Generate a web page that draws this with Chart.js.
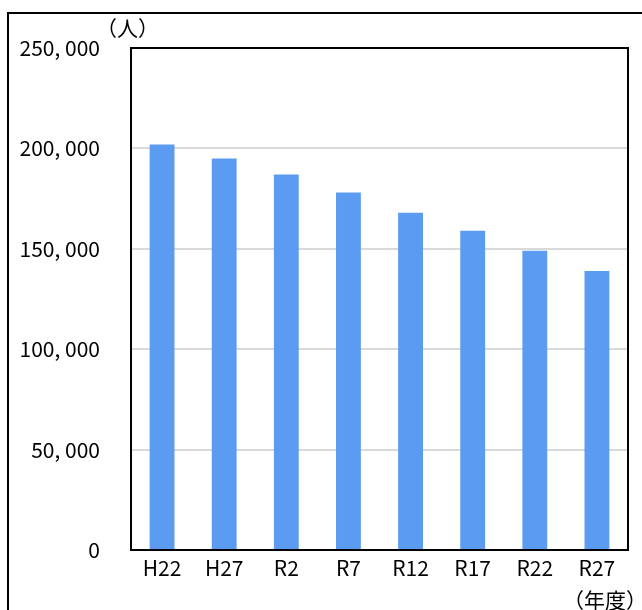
<!DOCTYPE html>
<html><head><meta charset="utf-8">
<script src="https://cdn.jsdelivr.net/npm/chart.js@4"></script>
<style>html,body{margin:0;padding:0;background:#fff}#wrap{width:642px;height:610px;position:relative}</style>
</head><body><div id="wrap"><canvas id="c" width="642" height="610"></canvas></div>
<script>
const categories = ['H22','H27','R2','R7','R12','R17','R22','R27'];
const population = [202000,195000,187000,178000,168000,159000,149000,139000];
const yUnit = '（人）';
const xUnit = '（年度）';
const FONT = '"Noto Sans CJK JP", sans-serif';

const fmt = v => {
  const s = Math.round(v).toString();
  if (s.length <= 3) return s;
  return s.slice(0, s.length - 3) + ', ' + s.slice(-3);
};

const frame = {
  id: 'frame',
  beforeDraw(chart) {
    const c = chart.ctx;
    c.save();
    c.fillStyle = '#fff';
    c.fillRect(0, 0, chart.width, chart.height);
    c.strokeStyle = '#000';
    c.lineWidth = 2;
    c.strokeRect(8, 13, 700, 700);
    c.restore();
  },
  afterDraw(chart) {
    const c = chart.ctx, a = chart.chartArea;
    c.save();
    c.strokeStyle = '#000';
    c.lineWidth = 2;
    c.strokeRect(a.left, a.top, a.right - a.left, a.bottom - a.top);
    c.fillStyle = '#000';
    c.font = '21px ' + FONT;
    c.textBaseline = 'alphabetic';
    c.textAlign = 'left';
    c.fillText(yUnit, 96, 36);
    c.textAlign = 'center';
    c.fillText(xUnit, 605, 608);
    c.restore();
  }
};

new Chart(document.getElementById('c'), {
  type: 'bar',
  data: {
    labels: categories,
    datasets: [{
      data: population,
      backgroundColor: '#5b9bf1',
      borderWidth: 0,
      barPercentage: 0.4,
      categoryPercentage: 1.0
    }]
  },
  options: {
    responsive: false,
    animation: false,
    devicePixelRatio: 1,
    layout: { padding: { top: 48, right: 14, left: 0, bottom: 0 } },
    plugins: { legend: { display: false }, tooltip: { enabled: false } },
    scales: {
      x: {
        grid: { display: false, drawTicks: false },
        border: { display: false },
        ticks: { color: '#000', font: { family: FONT, size: 21 }, padding: 5, maxRotation: 0 },
        afterFit(s) { s.height = 60; }
      },
      y: {
        min: 0, max: 250000,
        grid: { color: '#d9d9d9', lineWidth: 2, drawTicks: false },
        border: { display: false },
        ticks: { stepSize: 50000, color: '#000', font: { family: FONT, size: 21 }, padding: 31, callback: v => fmt(v) },
        afterFit(s) { s.width = 131; }
      }
    }
  },
  plugins: [frame]
});
</script></body></html>
